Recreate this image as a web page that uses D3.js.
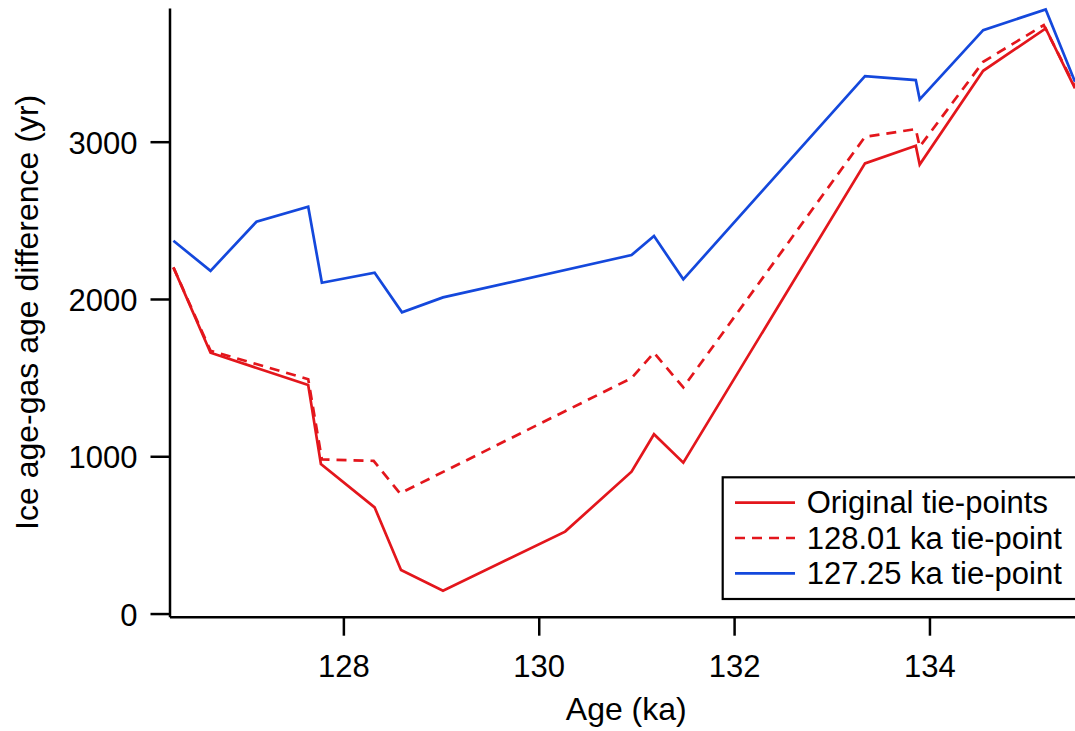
<!DOCTYPE html>
<html>
<head>
<meta charset="utf-8">
<script src="https://cdn.jsdelivr.net/npm/d3@7/dist/d3.min.js"></script>
<style>
  body { margin: 0; background: #fff; }
  text { font-family: "Liberation Sans", Arial, sans-serif; }
</style>
</head>
<body>
<div id="chart"></div>
<script>
// ---- data ----
var originalAge = [126.26, 126.64, 127.64, 127.77, 128.32, 128.59, 129.02, 130.27, 130.95, 131.18, 131.48, 133.34, 133.86, 133.90, 134.55, 135.19, 135.49];
var originalDiff = [2201, 1658, 1453, 950, 675, 277, 145, 521, 902, 1140, 959, 2862, 2974, 2855, 3451, 3720, 3339];

var tp12801Age = [126.26, 126.64, 127.64, 127.78, 128.31, 128.58, 130.95, 131.18, 131.48, 133.34, 133.86, 133.90, 134.55, 135.17, 135.49];
var tp12801Diff = [2201, 1671, 1490, 980, 971, 764, 1497, 1658, 1438, 3031, 3080, 2968, 3508, 3741, 3350];

var tp12725Age = [126.26, 126.64, 127.11, 127.64, 127.78, 128.32, 128.60, 129.02, 130.95, 131.18, 131.48, 133.34, 133.86, 133.90, 134.55, 135.19, 135.49];
var tp12725Diff = [2370, 2179, 2491, 2586, 2103, 2167, 1915, 2010, 2279, 2400, 2125, 3417, 3392, 3269, 3709, 3841, 3381];

var xTicks = [128, 130, 132, 134];
var yTicks = [0, 1000, 2000, 3000];
var legendLabels = ["Original tie-points", "128.01 ka tie-point", "127.25 ka tie-point"];

var RED = "#e3161c", BLUE = "#1448dc";

// ---- layout ----
var W = 1075, H = 731;
var plotL = 169.5, plotR = 1075, plotT = 8, plotB = 616.7;

var svg = d3.select("#chart").append("svg")
  .attr("width", W)
  .attr("height", H);

var x = d3.scaleLinear().domain([126.22, 135.49]).range([plotL, plotR]);
var y = d3.scaleLinear().domain([-20, 3850]).range([plotB, plotT]);

svg.append("clipPath").attr("id", "plot")
  .append("rect")
  .attr("x", plotL).attr("y", 0)
  .attr("width", plotR - plotL).attr("height", plotB);

function pairs(ages, vals) {
  return ages.map(function(a, i) { return [a, vals[i]]; });
}

var line = d3.line()
  .x(function(d) { return x(d[0]); })
  .y(function(d) { return y(d[1]); });

var series = [
  { data: pairs(originalAge, originalDiff), color: RED, dash: null },
  { data: pairs(tp12801Age, tp12801Diff), color: RED, dash: "10,7" },
  { data: pairs(tp12725Age, tp12725Diff), color: BLUE, dash: null }
];

svg.append("g").attr("clip-path", "url(#plot)")
  .selectAll("path")
  .data(series)
  .enter().append("path")
  .attr("d", function(d) { return line(d.data); })
  .attr("fill", "none")
  .attr("stroke", function(d) { return d.color; })
  .attr("stroke-width", 2.7)
  .attr("stroke-linejoin", "miter")
  .attr("stroke-dasharray", function(d) { return d.dash; });

// ---- axes ----
var xAxis = svg.append("g")
  .attr("transform", "translate(0," + plotB + ")")
  .call(d3.axisBottom(x).tickValues(xTicks).tickSize(19).tickSizeOuter(0).tickFormat(d3.format("d")));

xAxis.selectAll("text")
  .attr("y", 60).attr("dy", null)
  .style("font-size", "31px").attr("fill", "#000");

var yAxis = svg.append("g")
  .attr("transform", "translate(" + plotL + ",0)")
  .call(d3.axisLeft(y).tickValues(yTicks).tickSize(19).tickSizeOuter(0).tickPadding(13).tickFormat(d3.format("d")));

yAxis.selectAll("text")
  .attr("dy", "0.37em")
  .style("font-size", "31px").attr("fill", "#000");

svg.selectAll(".domain, .tick line")
  .attr("stroke", "#000")
  .attr("stroke-width", 2.5);

svg.append("text")
  .attr("x", (plotL + plotR) / 2 + 4)
  .attr("y", 720)
  .attr("text-anchor", "middle")
  .style("font-size", "32px")
  .text("Age (ka)");

svg.append("text")
  .attr("transform", "translate(38," + ((plotT + plotB) / 2) + ") rotate(-90)")
  .attr("text-anchor", "middle")
  .style("font-size", "32px")
  .text("Ice age-gas age difference (yr)");

// ---- legend ----
var lg = svg.append("g");
lg.append("rect")
  .attr("x", 722.7).attr("y", 477.3)
  .attr("width", 400).attr("height", 121.7)
  .attr("fill", "#fff")
  .attr("stroke", "#000")
  .attr("stroke-width", 2.2);

var rows = lg.selectAll(".row")
  .data(series)
  .enter().append("g")
  .attr("transform", function(d, i) { return "translate(0," + (502.7 + i * 35.3) + ")"; });

rows.append("line")
  .attr("x1", 735).attr("x2", 795)
  .attr("stroke", function(d) { return d.color; })
  .attr("stroke-width", 2.7)
  .attr("stroke-dasharray", function(d) { return d.dash; });

rows.append("text")
  .attr("x", 806.7)
  .attr("y", 10.5)
  .style("font-size", "31px")
  .text(function(d, i) { return legendLabels[i]; });
</script>
</body>
</html>
